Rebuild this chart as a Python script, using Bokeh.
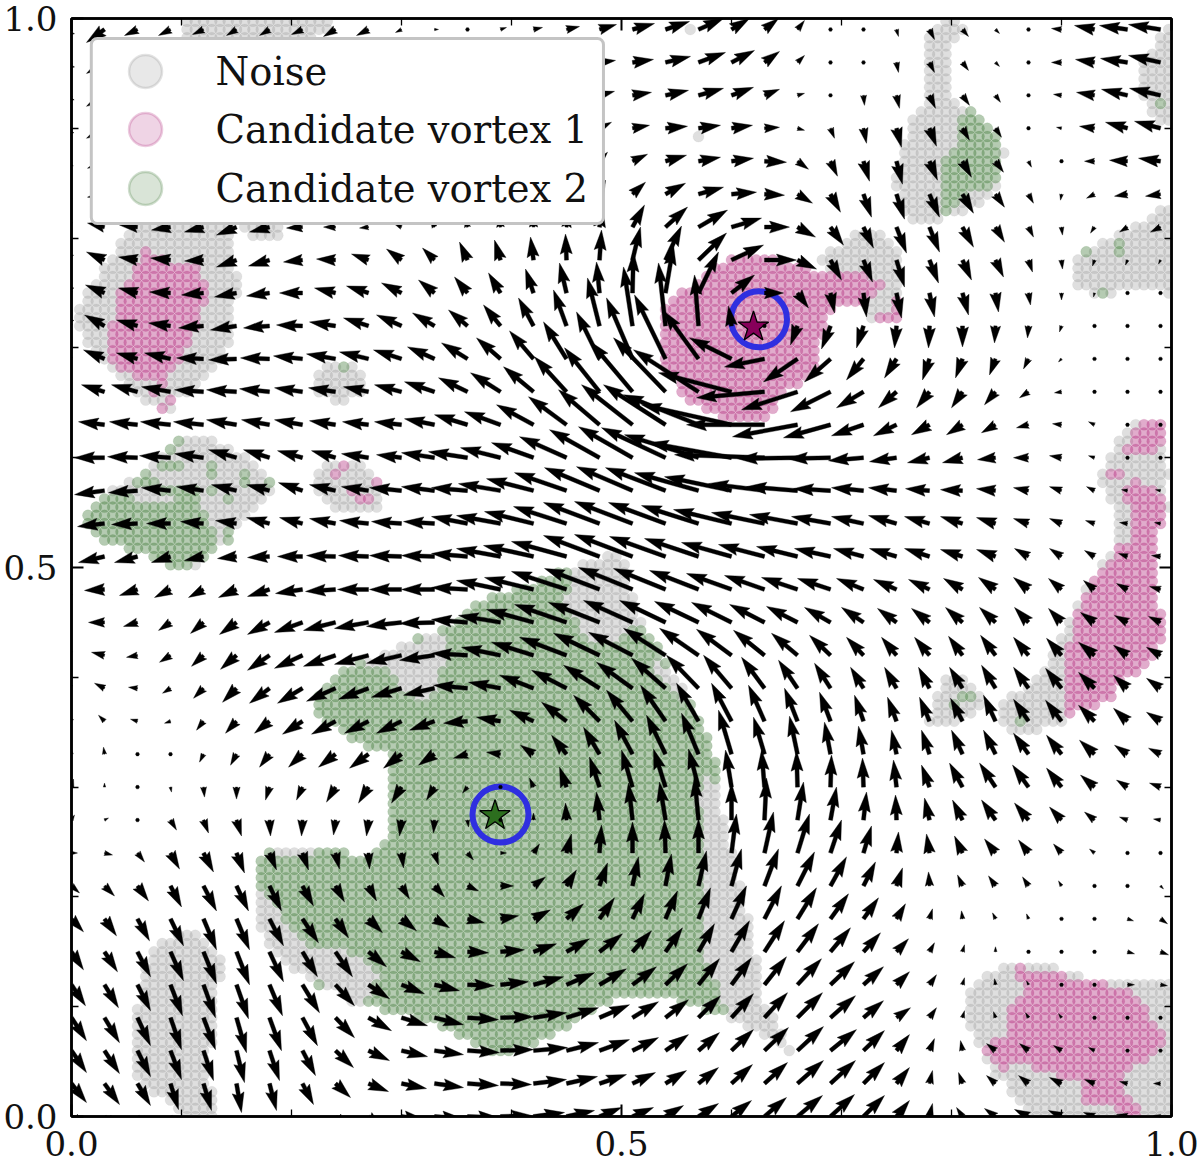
import numpy as np
from bokeh.core.properties import value
from bokeh.embed import file_html
from bokeh.models import BoxAnnotation, ColumnDataSource, FixedTicker, LinearAxis, NumeralTickFormatter, Range1d
from bokeh.plotting import figure
from bokeh.resources import INLINE

TICKS_MAJOR = [0.0, 0.5, 1.0]
TICKS_MINOR = [0.1, 0.2, 0.3, 0.4, 0.6, 0.7, 0.8, 0.9]
LEGEND_LABELS = ["Noise", "Candidate vortex 1", "Candidate vortex 2"]
VORTEX_CENTRES_X = [0.620, 0.385]
VORTEX_CENTRES_Y = [0.719, 0.274]
CIRCLE_CENTRES_X = [0.625, 0.390]
CIRCLE_CENTRES_Y = [0.726, 0.275]
GRID_STEP = 0.03      # quiver lattice
DOT_STEP = 0.0075     # scatter lattice

# Quiver vectors, rows from top (y=0.99) to bottom (y=0.0), columns x=0.0..0.99.
row_33 = [(-14,-10),(-18,-13),(-13,-6),(-12,-6),(-11,-5),(-10,-6),(-10,-6),(-11,-5),(-12,-7),(-12,-6),(-6,-3),(4,0),(0,0),(6,2),(9,2),(13,3),(17,5),(22,6),(24,8),(25,11),(18,11),(14,11),(7,9),(0,0),(0,0),(2,-7),(5,-10),(6,-7),(4,-4),(0,0),(-10,1),(-20,4),(-28,4),(-32,5)]
row_32 = [(-15,-10),(-18,-11),(-14,-6),(-12,-5),(-10,-4),(-9,-4),(-9,-4),(-9,-4),(-9,-3),(-8,-3),(-5,-2),(-2,0),(2,1),(5,1),(8,2),(12,2),(16,2),(21,3),(25,6),(27,10),(23,12),(15,11),(7,7),(0,0),(0,-3),(2,-10),(5,-10),(6,-8),(4,-4),(0,0),(-10,0),(-19,3),(-27,4),(-32,7)]
row_31 = [(-15,-9),(-18,-11),(-12,-5),(-10,-4),(-9,-3),(-8,-3),(-7,-3),(-7,-2),(-6,-2),(-5,-2),(-3,-1),(1,0),(4,1),(7,1),(10,2),(13,3),(15,4),(19,3),(23,5),(25,7),(22,8),(15,6),(7,2),(2,-3),(1,-10),(3,-13),(6,-13),(7,-10),(5,-7),(0,0),(-8,1),(-18,3),(-26,6),(-31,7)]
row_30 = [(-15,-8),(-18,-10),(-13,-4),(-11,-3),(-10,-2),(-9,-1),(-8,-1),(-7,0),(-6,0),(-4,1),(-2,2),(1,3),(4,4),(6,5),(8,6),(10,6),(12,6),(17,3),(22,2),(22,3),(21,3),(15,1),(7,-2),(4,-10),(3,-15),(5,-19),(7,-18),(7,-12),(6,-9),(1,-3),(-5,1),(-15,2),(-22,6),(-26,7)]
row_29 = [(-15,-6),(-17,-7),(-14,-3),(-13,-1),(-12,0),(-11,1),(-9,2),(-8,2),(-6,3),(-4,4),(-2,5),(0,6),(2,7),(3,8),(5,9),(6,9),(8,9),(15,7),(21,6),(22,4),(22,3),(22,-1),(11,-8),(7,-15),(6,-20),(6,-23),(8,-19),(9,-16),(8,-11),(3,-6),(-3,-2),(-10,0),(-18,1),(-22,3)]
row_28 = [(-15,-2),(-17,-3),(-15,-1),(-14,1),(-13,2),(-12,3),(-10,4),(-9,5),(-7,6),(-5,7),(-4,8),(-2,9),(-1,10),(1,11),(2,12),(4,13),(6,14),(13,12),(20,11),(25,7),(25,2),(20,-1),(15,-9),(10,-18),(8,-23),(8,-25),(10,-23),(11,-19),(9,-13),(5,-9),(-1,-6),(-8,-4),(-13,-2),(-15,-2)]
row_27 = [(-15,3),(-17,4),(-18,2),(-19,-3),(-19,-5),(-20,-8),(-20,-5),(-16,-1),(-12,0),(-9,-1),(-7,3),(-4,8),(-2,10),(-1,13),(0,14),(2,16),(3,20),(12,22),(22,20),(29,17),(30,9),(25,0),(18,-10),(13,-18),(10,-21),(10,-26),(10,-25),(11,-20),(9,-15),(5,-10),(1,-8),(-4,-6),(-8,-5),(-10,-5)]
row_26 = [(-16,7),(-18,8),(-19,3),(-20,2),(-19,-1),(-20,-7),(-21,-6),(-19,-2),(-19,1),(-17,6),(-15,11),(-12,12),(-8,18),(-6,20),(-3,23),(-1,26),(2,30),(8,33),(16,34),(28,27),(32,15),(32,0),(19,-9),(11,-20),(9,-22),(8,-27),(9,-23),(9,-20),(8,-17),(4,-12),(1,-9),(-2,-6),(-2,-5),(-2,-4)]
row_25 = [(-17,8),(-19,8),(-19,5),(-21,1),(-22,-2),(-22,-4),(-23,-3),(-23,0),(-21,5),(-22,7),(-20,10),(-16,13),(-13,16),(-12,20),(-8,24),(-7,30),(-3,31),(1,41),(8,48),(20,41),(23,18),(19,0),(11,-15),(4,-20),(3,-24),(5,-25),(5,-24),(6,-22),(3,-19),(2,-12),(0,-7),(-1,-4),(0,-3),(0,-2)]
row_24 = [(-18,10),(-20,11),(-21,6),(-22,3),(-25,-2),(-26,-4),(-26,-2),(-26,1),(-26,4),(-25,8),(-25,11),(-22,13),(-19,16),(-17,21),(-15,28),(-13,36),(-12,48),(-9,59),(-7,63),(-4,51),(-3,20),(-1,1),(-7,-19),(-9,-23),(-7,-22),(-2,-22),(-1,-22),(0,-21),(-1,-17),(-1,-12),(-2,-6),(0,0),(0,0),(3,-1)]
row_23 = [(-20,10),(-21,9),(-21,6),(-26,6),(-27,1),(-28,-1),(-29,1),(-29,3),(-29,5),(-29,7),(-28,9),(-27,12),(-26,16),(-24,21),(-24,28),(-23,37),(-23,47),(-26,61),(-31,64),(-35,48),(-42,21),(-40,-8),(-34,-23),(-26,-23),(-17,-21),(-12,-19),(-7,-21),(-7,-19),(-6,-16),(-5,-10),(-3,-3),(0,0),(0,0),(3,1)]
row_22 = [(-22,8),(-23,7),(-26,7),(-29,5),(-29,2),(-30,2),(-30,3),(-28,4),(-27,4),(-25,5),(-27,7),(-30,10),(-29,14),(-30,19),(-30,25),(-32,35),(-35,44),(-42,50),(-52,54),(-65,42),(-73,19),(-68,-6),(-56,-18),(-40,-20),(-27,-16),(-18,-16),(-13,-16),(-11,-16),(-11,-13),(-9,-6),(-7,-1),(0,0),(0,0),(2,3)]
row_21 = [(-24,3),(-26,3),(-28,3),(-30,3),(-30,3),(-30,5),(-28,5),(-28,5),(-26,4),(-26,3),(-27,3),(-30,6),(-33,10),(-36,13),(-37,20),(-38,28),(-41,35),(-51,40),(-62,40),(-75,30),(-90,20),(-78,0),(-65,-12),(-47,-13),(-32,-11),(-23,-11),(-18,-10),(-16,-10),(-14,-8),(-12,-3),(-9,1),(-6,3),(0,0),(0,0)]
row_20 = [(-28,0),(-30,0),(-30,1),(-31,2),(-29,4),(-28,8),(-26,8),(-25,7),(-24,7),(-27,4),(-25,3),(-33,5),(-39,6),(-40,10),(-42,15),(-47,21),(-50,28),(-54,31),(-64,30),(-74,23),(-83,15),(-90,3),(-60,-1),(-43,-1),(-35,-3),(-27,-4),(-22,-5),(-20,-5),(-18,-2),(-15,0),(-12,2),(-6,2),(-3,1),(0,0)]
row_19 = [(-28,-4),(-30,-4),(-29,-2),(-29,3),(-27,4),(-25,6),(-23,6),(-24,8),(-26,6),(-27,4),(-32,3),(-33,4),(-36,3),(-42,7),(-47,12),(-52,18),(-55,23),(-56,24),(-60,23),(-64,18),(-67,14),(-56,7),(-51,4),(-37,2),(-32,3),(-28,3),(-24,2),(-22,1),(-19,2),(-15,3),(-12,4),(-8,4),(-6,1),(-5,1)]
row_18 = [(-26,-3),(-27,-3),(-26,-1),(-24,0),(-23,2),(-21,3),(-23,6),(-23,6),(-26,5),(-29,3),(-30,2),(-31,2),(-36,7),(-44,8),(-49,12),(-53,17),(-56,21),(-58,22),(-57,21),(-57,18),(-58,14),(-53,11),(-48,9),(-39,7),(-32,7),(-28,8),(-25,7),(-22,7),(-19,6),(-15,5),(-12,5),(-9,3),(-8,1),(-6,1)]
row_17 = [(-25,-6),(-26,-6),(-23,-6),(-19,-6),(-19,-4),(-19,-2),(-22,-1),(-25,0),(-29,1),(-30,1),(-32,1),(-33,1),(-36,3),(-44,8),(-50,11),(-55,15),(-56,21),(-58,22),(-56,20),(-54,18),(-50,14),(-46,12),(-41,10),(-36,8),(-30,8),(-27,8),(-25,8),(-22,7),(-19,7),(-14,8),(-12,8),(-10,6),(-9,3),(-9,1)]
row_16 = [(-18,-3),(-20,-1),(-18,-6),(-16,-8),(-15,-8),(-18,-8),(-22,-7),(-27,-4),(-30,-2),(-31,0),(-32,0),(-33,0),(-36,2),(-44,9),(-49,12),(-55,18),(-55,21),(-54,22),(-52,21),(-49,19),(-45,16),(-40,14),(-36,12),(-33,11),(-27,11),(-23,10),(-21,10),(-19,11),(-17,12),(-15,12),(-13,11),(-11,9),(-11,6),(-11,3)]
row_15 = [(-14,1),(-16,0),(-14,-4),(-12,-8),(-13,-11),(-17,-12),(-22,-12),(-28,-10),(-32,-8),(-34,-6),(-35,-4),(-35,-1),(-36,3),(-42,7),(-47,13),(-52,18),(-51,20),(-49,22),(-46,22),(-44,21),(-40,20),(-35,18),(-31,16),(-26,15),(-22,15),(-19,14),(-18,14),(-17,15),(-16,15),(-14,15),(-13,14),(-14,10),(-13,7),(-12,6)]
row_14 = [(-12,3),(-13,3),(-11,-2),(-11,-7),(-12,-11),(-16,-14),(-22,-15),(-28,-13),(-32,-11),(-34,-9),(-35,-8),(-35,-5),(-36,2),(-39,8),(-42,13),(-47,18),(-46,22),(-44,23),(-42,27),(-39,27),(-35,26),(-31,25),(-26,22),(-21,20),(-17,18),(-15,18),(-15,18),(-14,19),(-15,20),(-15,18),(-15,17),(-16,13),(-14,10),(-14,8)]
row_13 = [(-9,5),(-10,5),(-9,1),(-8,-5),(-10,-10),(-14,-14),(-20,-15),(-25,-15),(-29,-13),(-30,-11),(-30,-9),(-31,-7),(-34,3),(-32,6),(-34,13),(-35,18),(-36,23),(-36,26),(-34,30),(-32,33),(-28,33),(-23,31),(-19,28),(-16,25),(-13,21),(-12,21),(-11,21),(-13,21),(-14,23),(-15,21),(-16,20),(-16,16),(-14,13),(-14,10)]
row_12 = [(-5,7),(-6,6),(-7,2),(-6,-2),(-7,-9),(-11,-12),(-15,-12),(-20,-13),(-24,-13),(-24,-12),(-25,-12),(-25,-9),(-24,-2),(-24,4),(-24,11),(-25,19),(-26,26),(-26,31),(-25,36),(-22,38),(-20,38),(-16,36),(-13,33),(-11,29),(-9,26),(-9,24),(-10,24),(-12,23),(-12,26),(-15,22),(-16,21),(-16,16),(-14,13),(-14,9)]
row_11 = [(-1,6),(-1,7),(0,0),(-2,-3),(-4,-8),(-6,-11),(-10,-13),(-14,-13),(-17,-13),(-19,-14),(-18,-14),(-16,-11),(-14,-4),(-14,2),(-13,9),(-15,19),(-16,27),(-18,34),(-19,39),(-17,41),(-13,44),(-11,37),(-8,38),(-6,32),(-5,28),(-5,24),(-8,24),(-11,24),(-12,24),(-15,21),(-15,19),(-15,14),(-13,9),(-12,6)]
row_10 = [(2,8),(0,4),(0,0),(1,-5),(1,-10),(0,-12),(-4,-13),(-6,-13),(-9,-15),(-10,-16),(-10,-16),(-8,-13),(-5,-6),(-1,1),(-4,9),(-7,20),(-10,30),(-11,37),(-12,38),(-10,38),(-6,37),(-3,37),(-1,36),(1,32),(-1,29),(-3,27),(-8,22),(-13,24),(-16,24),(-16,22),(-15,19),(-14,12),(-11,7),(-11,4)]
row_09 = [(3,5),(4,2),(2,-2),(6,-10),(5,-13),(5,-16),(1,-16),(-1,-16),(-2,-15),(-2,-16),(-2,-16),(-1,-13),(1,-7),(2,-2),(0,7),(-1,17),(-3,28),(-4,37),(-6,38),(-4,43),(0,37),(2,42),(6,38),(6,33),(3,28),(-1,25),(-5,22),(-10,20),(-14,20),(-14,17),(-12,13),(-10,8),(-8,3),(-7,1)]
row_08 = [(6,0),(8,-2),(7,-9),(9,-16),(10,-19),(8,-20),(7,-17),(6,-17),(4,-16),(1,-16),(2,-15),(4,-12),(6,-7),(6,0),(6,9),(5,19),(2,28),(0,31),(-1,33),(0,34),(5,39),(9,41),(12,39),(11,33),(8,27),(2,21),(-3,19),(-8,17),(-11,14),(-10,13),(-8,9),(-5,4),(0,0),(0,0)]
row_07 = [(8,-7),(10,-10),(11,-15),(11,-21),(13,-25),(12,-25),(12,-25),(11,-20),(9,-16),(8,-15),(8,-13),(10,-11),(11,-5),(13,0),(12,9),(10,16),(8,23),(6,29),(6,32),(8,35),(10,37),(14,37),(17,34),(16,29),(12,24),(6,18),(-1,14),(-5,11),(-7,10),(-6,9),(-3,5),(0,0),(0,0),(3,-3)]
row_06 = [(12,-13),(12,-17),(12,-22),(13,-27),(13,-31),(13,-31),(14,-27),(16,-24),(13,-19),(14,-14),(15,-12),(15,-9),(17,-4),(18,3),(17,9),(17,15),(15,21),(12,25),(12,28),(12,31),(15,33),(17,33),(19,31),(18,25),(15,21),(9,15),(3,10),(-1,8),(-3,6),(-2,5),(0,0),(0,0),(6,-2),(7,-5)]
row_05 = [(12,-18),(13,-20),(13,-25),(13,-29),(13,-32),(13,-33),(14,-30),(15,-25),(17,-25),(18,-15),(19,-10),(21,-6),(21,-1),(24,2),(23,8),(23,13),(23,18),(19,21),(17,24),(16,28),(18,31),(20,31),(21,28),(20,24),(17,19),(12,13),(5,9),(2,7),(0,5),(0,3),(0,0),(3,0),(7,-2),(8,-3)]
row_04 = [(14,-21),(14,-23),(13,-26),(12,-31),(12,-33),(12,-34),(13,-31),(17,-28),(19,-21),(21,-14),(23,-9),(25,-6),(27,-1),(28,3),(30,8),(28,12),(27,16),(24,18),(22,21),(21,26),(20,27),(22,28),(24,26),(24,23),(20,18),(13,13),(7,10),(2,7),(-1,6),(-2,4),(-1,1),(0,0),(7,0),(7,-1)]
row_03 = [(15,-23),(15,-25),(13,-28),(11,-32),(12,-32),(10,-35),(12,-33),(15,-28),(19,-20),(23,-13),(26,-8),(29,-7),(31,-2),(33,1),(33,5),(32,10),(30,13),(26,16),(23,18),(22,22),(22,24),(23,25),(25,25),(25,22),(20,17),(14,10),(7,10),(2,7),(-2,6),(-3,5),(-3,4),(0,0),(0,0),(0,0)]
row_02 = [(15,-22),(15,-23),(13,-26),(11,-29),(10,-30),(8,-32),(10,-30),(13,-25),(18,-17),(21,-10),(26,-6),(29,-4),(32,-2),(33,1),(34,3),(32,8),(30,11),(26,13),(23,16),(21,18),(22,21),(24,23),(26,24),(26,21),(21,20),(13,16),(5,12),(-2,10),(-9,7),(-9,7),(-8,5),(-6,3),(-3,1),(0,0)]
row_01 = [(15,-19),(15,-21),(13,-22),(8,-26),(8,-27),(5,-29),(7,-27),(11,-21),(15,-14),(20,-8),(25,-5),(29,-4),(31,-2),(31,-1),(33,4),(31,7),(27,9),(23,11),(21,13),(20,16),(21,19),(23,21),(26,23),(25,23),(21,21),(13,16),(3,13),(-4,11),(-9,8),(-10,8),(-12,6),(-10,4),(-8,2),(-7,0)]
row_00 = [(14,-17),(14,-18),(14,-19),(12,-20),(7,-22),(7,-23),(4,-24),(5,-23),(8,-18),(13,-11),(23,-3),(28,-2),(31,-1),(31,1),(31,4),(28,6),(22,9),(21,9),(18,11),(20,13),(20,16),(22,19),(25,21),(24,22),(21,21),(13,16),(3,13),(-6,9),(-11,8),(-14,7),(-13,6),(-11,4),(-11,2),(-7,1)]
QUIVER_ROWS = [row_00,row_01,row_02,row_03,row_04,row_05,row_06,row_07,row_08,row_09,row_10,row_11,row_12,row_13,row_14,row_15,row_16,row_17,row_18,row_19,row_20,row_21,row_22,row_23,row_24,row_25,row_26,row_27,row_28,row_29,row_30,row_31,row_32,row_33]

# Cluster outlines, in data coordinates.
noise_a = [(.059,.811),(.147,.811),(.148,.775),(.153,.766),(.147,.725),(.141,.693),(.118,.666),(.095,.652),(.086,.639),(.073,.648),(.050,.666),(.032,.684),(.009,.711),(.002,.734),(.014,.752),(.027,.770),(.041,.793)]
noise_a2 = [(.150,.813),(.188,.813),(.188,.802),(.159,.801)]
noise_b = [(.098,1.0),(.234,1.0),(.234,.986),(.223,.982),(.098,.982)]
noise_c = [(.223,.675),(.232,.684),(.250,.687),(.264,.679),(.269,.666),(.262,.657),(.245,.650),(.229,.654),(.218,.663)]
noise_d = [(.009,.546),(.025,.564),(.056,.582),(.082,.600),(.106,.622),(.127,.618),(.155,.604),(.182,.577),(.179,.564),(.157,.543),(.136,.522),(.121,.506),(.100,.497),(.088,.502),(.061,.514),(.030,.522),(.018,.531)]
noise_e = [(.218,.577),(.230,.595),(.248,.599),(.270,.590),(.279,.573),(.284,.555),(.270,.549),(.248,.549),(.234,.558)]
noise_h = [(.057,.076),(.064,.127),(.070,.148),(.082,.160),(.103,.172),(.118,.163),(.134,.148),(.139,.127),(.130,.115),(.132,.090),(.127,.060),(.127,.026),(.134,0),(.100,0),(.082,.017),(.057,.033)]
noise_v = [(.679,.782),(.691,.789),(.709,.804),(.735,.807),(.748,.798),(.757,.771),(.756,.746),(.757,.727),(.725,.727),(.725,.741),(.691,.752)]
noise_j = [(.791,1.0),(.809,1.0),(.812,.986),(.800,.974),(.797,.934),(.806,.925),(.827,.910),(.843,.895),(.848,.877),(.843,.850),(.827,.828),(.797,.819),(.766,.814),(.755,.823),(.748,.850),(.755,.877),(.764,.910),(.773,.923),(.773,.971),(.779,.986)]
noise_k = [(.994,.995),(1.0,.992),(1.0,.904),(.985,.907),(.975,.923),(.973,.946),(.975,.962),(.985,.977)]
noise_l = [(.912,.786),(.930,.791),(.948,.801),(.973,.813),(.994,.828),(1.0,.825),(1.0,.746),(.985,.755),(.961,.757),(.936,.746),(.925,.750),(.912,.755)]
noise_m = [(.975,.637),(.991,.631),(.993,.604),(.998,.591),(.997,.567),(.998,.552),(.986,.527),(.984,.500),(.989,.464),(.993,.440),(.982,.415),(.961,.400),(.943,.379),(.925,.373),(.903,.361),(.885,.354),(.873,.344),(.848,.354),(.843,.373),(.857,.385),(.882,.406),(.897,.431),(.915,.470),(.930,.491),(.948,.522),(.948,.555),(.936,.577),(.939,.597),(.952,.618),(.966,.631)]
noise_n = [(.777,.353),(.784,.382),(.794,.400),(.818,.397),(.830,.382),(.825,.370),(.809,.361),(.785,.352)]
noise_p = [(.812,.106),(.821,.121),(.843,.136),(.894,.136),(.925,.124),(.982,.127),(1.0,.127),(1.0,0),(.870,0),(.852,.026),(.834,.042),(.815,.085)]
pink_a = [(.039,.684),(.030,.716),(.041,.731),(.041,.750),(.052,.764),(.064,.782),(.066,.791),(.094,.777),(.111,.780),(.118,.770),(.123,.750),(.115,.725),(.106,.700),(.094,.682),(.088,.673),(.057,.672)]
pink_e = [(.259,.566),(.273,.566),(.273,.558),(.259,.558)]
pink_v = [(.538,.734),(.557,.752),(.585,.777),(.603,.784),(.634,.782),(.675,.772),(.694,.769),(.727,.764),(.738,.761),(.738,.752),(.729,.752),(.725,.743),(.705,.737),(.689,.734),(.682,.707),(.675,.682),(.664,.670),(.643,.652),(.630,.634),(.598,.634),(.557,.652),(.539,.682),(.536,.711)]
pink_v2 = [(.743,.750),(.750,.743),(.757,.734),(.757,.727),(.734,.727),(.734,.731),(.744,.734)]
pink_m1 = [(.975,.637),(.991,.631),(.993,.614),(.985,.604),(.955,.602),(.952,.607),(.964,.618)]
pink_m2 = [(.964,.582),(.985,.573),(.997,.552),(.988,.531),(.984,.500),(.989,.464),(.993,.440),(.982,.415),(.961,.400),(.943,.379),(.925,.373),(.903,.361),(.902,.413),(.915,.464),(.930,.491),(.952,.518),(.964,.527),(.964,.552),(.952,.564)]
pink_m3 = [(.944,.591),(.956,.591),(.956,.584),(.944,.584)]
pink_p = [(.861,.136),(.925,.124),(.955,.117),(.970,.108),(.979,.090),(.997,.072),(.985,.054),(.961,.042),(.952,.024),(.970,.005),(.973,0),(.955,0),(.936,.015),(.918,.015),(.915,.036),(.875,.039),(.870,.051),(.843,.042),(.829,.060),(.852,.076),(.852,.094),(.864,.108)]
green_d = [(.009,.546),(.025,.564),(.052,.567),(.064,.555),(.097,.564),(.118,.564),(.121,.549),(.134,.518),(.118,.505),(.100,.499),(.088,.502),(.061,.514),(.030,.522),(.018,.531)]
green_f = [(.491,.513),(.506,.506),(.512,.464),(.539,.418),(.566,.376),(.579,.345),(.585,.324),(.588,.297),(.597,.254),(.609,.212),(.618,.172),(.625,.136),(.630,.103),(.657,.057),(.643,.066),(.615,.081),(.597,.090),(.575,.097),(.548,.107),(.509,.112),(.479,.101),(.448,.078),(.418,.063),(.388,.057),(.357,.069),(.327,.085),(.294,.094),(.264,.103),(.230,.117),(.197,.136),(.179,.158),(.168,.179),(.166,.218),(.175,.240),(.185,.247),(.221,.245),(.248,.240),(.275,.240),(.286,.256),(.286,.303),(.289,.333),(.266,.336),(.248,.350),(.221,.367),(.218,.379),(.234,.397),(.245,.408),(.264,.413),(.294,.427),(.309,.434),(.332,.441),(.379,.473),(.430,.491),(.457,.500)]
green_j = [(.806,.913),(.818,.918),(.843,.895),(.847,.873),(.843,.850),(.815,.843),(.800,.822),(.791,.822),(.788,.850),(.793,.868),(.803,.880),(.803,.901)]
over_g1 = [(.457,.500),(.491,.513),(.506,.506),(.512,.464),(.521,.452),(.497,.434),(.482,.427),(.466,.440),(.443,.473),(.452,.482)]
over_g2 = [(.582,.315),(.588,.297),(.597,.254),(.609,.212),(.618,.172),(.625,.136),(.630,.103),(.657,.057),(.643,.066),(.615,.081),(.595,.090),(.588,.121),(.575,.145),(.573,.181),(.570,.212),(.573,.267),(.568,.297)]
over_g3 = [(.264,.411),(.294,.427),(.332,.441),(.341,.434),(.343,.425),(.336,.402),(.327,.382),(.318,.379),(.300,.388),(.286,.406),(.268,.405)]
over_g4 = [(.170,.206),(.185,.194),(.197,.176),(.212,.158),(.243,.154),(.257,.148),(.279,.127),(.270,.106),(.257,.103),(.234,.117),(.197,.136),(.179,.158),(.168,.179)]
over_g5 = [(.182,.247),(.223,.245),(.223,.238),(.209,.233),(.186,.233)]
over_g6 = [(.527,.418),(.547,.404),(.564,.379),(.555,.379),(.532,.402)]
over_v1 = [(.627,.668),(.643,.668),(.640,.652),(.625,.655)]
over_v2 = [(.600,.640),(.618,.640),(.618,.632),(.600,.632)]
pink_single_x = [.085,.092,.081,.075,.240,.251,.275,.257]
pink_single_y = [.669,.655,.645,.659,.586,.590,.575,.568]
green_single_x = [.244,.248,.095,.091,.082,.071,.092,.100,.130,.130,.161,.179,.155,.125,.145,.141,.139,.061,.066,.073,.079,.088,.097,.107,.116,.125,.989,.921,.949,.949,.935,.820,.810,.800,.860]
green_single_y = [.684,.684,.615,.609,.590,.585,.592,.590,.595,.585,.585,.575,.575,.572,.564,.529,.525,.579,.576,.577,.573,.573,.570,.570,.573,.568,.921,.785,.795,.790,.750,.384,.380,.375,.360]
noise_single_x = [.570,.566]
noise_single_y = [.892,.993]

NOISE_OUTLINES = [noise_a,noise_a2,noise_b,noise_c,noise_d,noise_e,noise_h,noise_v,noise_j,noise_k,noise_l,noise_m,noise_n,noise_p]
GREEN_OUTLINES = [green_d,green_f,green_j]
NOISE_OVER = [over_g1,over_g2,over_g3,over_g4,over_g5,over_g6,over_v1,over_v2]
PINK_OUTLINES = [pink_a,pink_e,pink_v,pink_v2,pink_m1,pink_m2,pink_m3,pink_p]

GREY, PINK, GREEN = "#808080", "#a8126e", "#2a6a22"
INK = "#000000"
RING = "#2f2fe0"
STAR_COLOURS = ["#87005a", "#2c6e1e"]


def inside(poly, px, py):
    pts = np.asarray(poly, float)
    x0, y0 = pts[:, 0], pts[:, 1]
    x1, y1 = np.roll(x0, -1), np.roll(y0, -1)
    hit = np.zeros(px.shape, bool)
    for a, b, c, d in zip(x0, y0, x1, y1):
        if b == d:
            continue
        cross = ((b > py) != (d > py)) & (px < (c - a) * (py - b) / (d - b) + a)
        hit ^= cross
    return hit


n_dots = int(round(1.0 / DOT_STEP)) + 1
gx, gy = np.meshgrid(np.arange(n_dots) * DOT_STEP, np.arange(n_dots) * DOT_STEP)
labels = np.zeros(gx.shape, int)
for poly in NOISE_OUTLINES:
    labels[inside(poly, gx, gy)] = 1
for poly in GREEN_OUTLINES:
    labels[inside(poly, gx, gy)] = 3
for poly in NOISE_OVER:
    labels[inside(poly, gx, gy)] = 1
for poly in PINK_OUTLINES:
    labels[inside(poly, gx, gy)] = 2
for xs_, ys_, lab in [(noise_single_x, noise_single_y, 1), (pink_single_x, pink_single_y, 2), (green_single_x, green_single_y, 3)]:
    for a, b in zip(xs_, ys_):
        labels[int(round(b / DOT_STEP)), int(round(a / DOT_STEP))] = lab

FRAME_W, FRAME_H = 1100, 1098
p = figure(frame_width=FRAME_W, frame_height=FRAME_H, x_range=Range1d(0, 1), y_range=Range1d(0, 1),
           output_backend="svg", toolbar_location=None, min_border_left=67, min_border_right=28,
           min_border_top=18, min_border_bottom=46, background_fill_color="white", x_axis_type="linear")
p.grid.visible = False
p.outline_line_color = "black"
p.outline_line_width = 2.5


def style(ax, labelled):
    ax.ticker = FixedTicker(ticks=TICKS_MAJOR, minor_ticks=TICKS_MINOR)
    ax.axis_line_width = 2.5
    ax.major_tick_in = 12
    ax.major_tick_out = 0
    ax.minor_tick_in = 7
    ax.minor_tick_out = 0
    ax.major_tick_line_width = 2
    ax.minor_tick_line_width = 1.3
    if labelled:
        ax.formatter = NumeralTickFormatter(format="0.0")
        ax.major_label_text_font = "DejaVu Serif"
        ax.major_label_text_font_size = "34px"
        ax.major_label_text_color = "#111111"
        ax.major_label_standoff = 14
    else:
        ax.major_label_text_font_size = "0px"
        ax.major_label_text_color = None
        ax.major_label_standoff = 0


style(p.xaxis[0], True)
style(p.yaxis[0], True)
ax_r, ax_t = LinearAxis(), LinearAxis()
style(ax_r, False)
style(ax_t, False)
p.add_layout(ax_r, "right")
p.add_layout(ax_t, "above")

DOT_ALPHA = {GREY: 0.25, PINK: 0.35, GREEN: 0.35}
for lab, col in [(1, GREY), (2, PINK), (3, GREEN)]:
    m = labels == lab
    p.scatter(gx[m], gy[m], marker="circle", size=11, line_width=0.6, fill_color=col, line_color=col,
              fill_alpha=DOT_ALPHA[col], line_alpha=DOT_ALPHA[col] * 0.5)

p.scatter(CIRCLE_CENTRES_X, CIRCLE_CENTRES_Y, marker="circle", size=56, fill_color=None,
          line_color=RING, line_width=6)
p.scatter(VORTEX_CENTRES_X, VORTEX_CENTRES_Y, marker="star", size=32, fill_color=STAR_COLOURS,
          line_color="black", line_width=1.3)

# Quiver arrows: matplotlib's arrow shape, built from the vector tables.
W = 4.0
HEAD_LEN, HEAD_AXIS, HEAD_W = 5 * W, 4.5 * W, 3 * W
arrow_xs, arrow_ys = [], []
for j, row in enumerate(QUIVER_ROWS):
    for i, (dx, dy) in enumerate(row):
        x0, y0 = i * GRID_STEP, j * GRID_STEP
        L = float(np.hypot(dx, dy))
        if L < W:
            ang = np.arange(6) * np.pi / 3
            ox, oy = W / 2 * np.cos(ang), W / 2 * np.sin(ang)
        else:
            k = min(1.0, L / HEAD_LEN)
            tip = L / k if k < 1 else L
            lx = np.array([0, tip - HEAD_AXIS, tip - HEAD_LEN, tip, tip - HEAD_LEN, tip - HEAD_AXIS, 0]) * k
            ly = np.array([W / 2, W / 2, HEAD_W / 2, 0, -HEAD_W / 2, -W / 2, -W / 2]) * k
            c, s = dx / L, dy / L
            ox, oy = lx * c - ly * s, lx * s + ly * c
        arrow_xs.append((x0 + ox / FRAME_W).tolist())
        arrow_ys.append((y0 + oy / FRAME_H).tolist())
p.patches(xs="xs", ys="ys", source=ColumnDataSource(dict(xs=arrow_xs, ys=arrow_ys)),
          fill_color=INK, line_color=INK, line_width=0.4)

# Legend box with oversized markers.
legend_box = BoxAnnotation(left=0.018, right=0.4836, bottom=0.8133, top=0.9818, fill_color="white",
                           fill_alpha=1.0, line_color="#c4c4c4", line_width=3, line_alpha=1.0, border_radius=6)
p.add_layout(legend_box)
LEG_Y = [0.9517, 0.8989, 0.8452]
p.scatter([0.0673] * 3, LEG_Y, marker="circle", size=33, fill_color=[GREY, PINK, GREEN],
          line_color=[GREY, PINK, GREEN], fill_alpha=0.18, line_alpha=0.22, line_width=2.5, level="overlay")
p.text([0.131] * 3, LEG_Y, text=LEGEND_LABELS, text_font=value("DejaVu Serif"), text_font_size="38.5px",
       text_baseline="middle", text_align="left", text_color="#111111", level="overlay")

open("out.html", "w").write(file_html(p, INLINE))
